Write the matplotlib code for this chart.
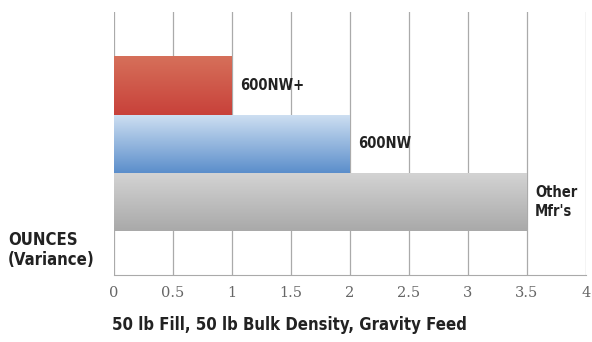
import numpy as np
from matplotlib import pyplot as plt
from matplotlib.colors import LinearSegmentedColormap

# data, bottom to top
labels = ["Other\nMfr's", "600NW", "600NW+"]
values = [3.5, 2.0, 1.0]
top_colors = ["#d4d4d4", "#cfe0f2", "#d6705a"]
bottom_colors = ["#a9a9a9", "#5b8ecb", "#c8413a"]
xticks = [0, 0.5, 1, 1.5, 2, 2.5, 3, 3.5, 4]
xtick_labels = ["0", "0.5", "1", "1.5", "2", "2.5", "3", "3.5", "4"]

cond = dict(family="DejaVu Sans", stretch="condensed", fontweight="bold", color="#222222")

fig = plt.figure(figsize=(5.92, 3.42), dpi=100)
ax = fig.add_axes([0.1926, 0.196, 0.797, 0.769])

ypos = np.arange(len(values))
bars = ax.barh(ypos, values, height=1.0, color="none", edgecolor="none", zorder=3)

# vertical gradient inside each bar
grad = np.linspace(0, 1, 256).reshape(-1, 1)
for bar, c_top, c_bot in zip(bars, top_colors, bottom_colors):
    cmap = LinearSegmentedColormap.from_list("g", [c_bot, c_top])
    x0, y0 = bar.get_x(), bar.get_y()
    w, h = bar.get_width(), bar.get_height()
    im = ax.imshow(grad, cmap=cmap, aspect="auto", origin="lower",
                   extent=[x0, x0 + w, y0, y0 + h], zorder=3)
    im.set_clip_path(bar)

for y, v, lab in zip(ypos, values, labels):
    ax.text(v + 0.07, y, lab, va="center", ha="left", fontsize=10.5, linespacing=1.3, **cond)

ax.set_xlim(0, 4)
ax.set_ylim(-1.25, 3.26)
ax.set_xticks(xticks)
ax.set_xticklabels(xtick_labels, family="DejaVu Serif", fontsize=10.5, color="#666666")
ax.set_yticks([])
ax.tick_params(axis="x", length=0, pad=8)
ax.grid(axis="x", color="#aaaaaa", linewidth=0.9, zorder=0)
ax.set_axisbelow(True)
for side in ["top", "left", "right"]:
    ax.spines[side].set_visible(False)
ax.spines["bottom"].set_color("#aaaaaa")

fig.text(0.0135, 0.298, "OUNCES", fontsize=12, va="center", **cond)
fig.text(0.0135, 0.24, "(Variance)", fontsize=12, va="center", **cond)
fig.text(0.189, 0.05, "50 lb Fill, 50 lb Bulk Density, Gravity Feed", fontsize=12,
         va="center", **cond)

plt.savefig("out.png", dpi=100)
